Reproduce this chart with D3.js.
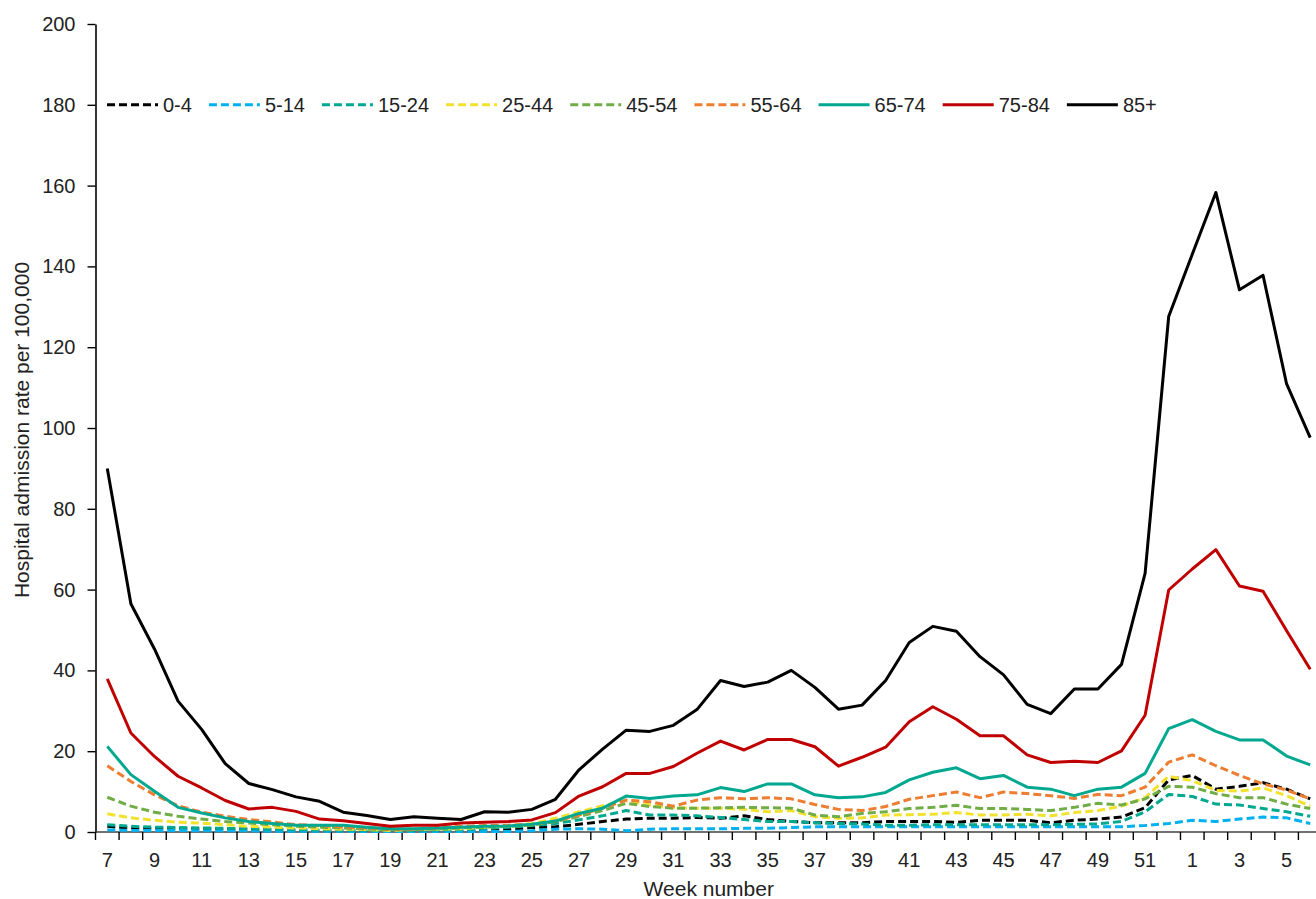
<!DOCTYPE html>
<html>
<head>
<meta charset="utf-8">
<script src="https://cdn.jsdelivr.net/npm/d3@7"></script>
<style>
  html, body { margin: 0; padding: 0; background: #fff; }
  svg { display: block; font-family: "Liberation Sans", Arial, sans-serif; }
</style>
</head>
<body>
<svg id="chart" width="1316" height="899"></svg>
<script>
// ---- Data ----
const weeks = ["7","8","9","10","11","12","13","14","15","16","17","18","19","20","21","22","23",
  "24","25","26","27","28","29","30","31","32","33","34","35","36","37","38","39","40","41",
  "42","43","44","45","46","47","48","49","50","51","52","1","2","3","4","5","6"];

const yTicks = [0,20,40,60,80,100,120,140,160,180,200];

const seriesNames = ["0-4","5-14","15-24","25-44","45-54","55-64","65-74","75-84","85+"];

const age0_4 = [1.4,1.0,0.9,0.9,0.8,0.8,0.7,0.6,0.5,0.4,0.4,0.3,0.3,0.3,0.3,0.4,0.6,
  0.7,1.1,1.3,1.9,2.6,3.2,3.4,3.4,3.6,3.4,4.0,3.1,2.6,2.3,2.3,2.3,2.6,2.6,
  2.6,2.4,2.9,2.9,2.9,2.3,2.9,3.2,3.7,6.0,12.9,
  14.0,10.6,11.3,12.2,10.6,8.2];
const age5_14 = [0.5,0.4,0.4,0.4,0.3,0.3,0.3,0.2,0.2,0.2,0.2,0.1,0.1,0.1,0.1,0.1,0.1,
  0.1,0.3,0.7,0.8,0.7,0.3,0.7,0.8,0.8,0.8,0.9,0.9,1.1,1.3,1.3,1.3,1.3,1.3,
  1.3,1.3,1.3,1.3,1.3,1.3,1.3,1.3,1.3,1.6,2.1,
  2.9,2.6,3.2,3.7,3.5,2.1];
const age15_24 = [1.8,1.4,1.2,1.1,1.0,0.9,0.8,0.7,0.6,0.5,0.5,0.4,0.4,0.4,0.5,0.6,0.8,
  1.2,1.6,2.1,3.0,4.0,5.3,4.2,4.2,4.0,3.6,3.1,2.6,2.6,2.3,2.1,2.0,1.7,1.7,
  1.8,1.8,1.8,1.8,1.8,1.8,1.9,2.0,2.6,5.0,9.3,
  8.8,6.9,6.7,5.8,5.0,3.9];
const age25_44 = [4.5,3.5,2.9,2.4,2.2,1.8,1.4,1.2,1.0,0.8,0.7,0.6,0.4,0.6,0.7,0.8,1.2,
  1.5,2.1,3.4,5.0,6.5,7.8,6.7,6.0,5.9,5.9,5.6,5.0,5.3,3.8,3.4,3.5,4.2,4.3,
  4.4,4.8,4.2,4.2,4.4,4.0,4.8,5.3,6.4,8.5,13.8,
  12.7,10.3,10.1,10.9,9.0,6.4];
const age45_54 = [8.6,6.4,4.9,3.9,3.2,2.6,2.2,1.8,1.4,1.2,1.0,0.7,0.6,0.6,0.7,1.0,1.2,
  1.4,1.7,2.6,3.8,5.3,7.1,6.3,5.9,5.9,6.0,6.1,6.0,5.9,4.2,3.8,4.6,5.0,5.8,
  6.1,6.6,5.8,5.8,5.6,5.3,6.1,7.1,6.7,8.2,11.3,
  11.1,9.5,8.5,8.5,6.9,5.8];
const age55_64 = [16.4,12.5,9.2,6.5,4.9,3.9,3.1,2.5,1.8,1.6,1.2,1.0,0.7,0.7,1.0,1.4,1.6,
  1.7,1.9,2.7,4.2,5.9,7.9,7.5,6.4,7.9,8.5,8.2,8.5,8.2,6.8,5.6,5.3,6.3,8.1,
  9.0,9.9,8.5,9.9,9.5,9.0,8.3,9.3,9.0,11.1,17.3,
  19.1,16.4,14.0,11.9,10.4,8.2];
const age65_74 = [21.2,14.2,10.1,6.1,4.7,3.5,2.6,2.1,1.7,1.7,1.7,1.2,0.8,0.8,1.0,1.2,1.4,
  1.5,1.9,2.7,4.6,5.9,8.9,8.3,8.9,9.2,11.0,10.0,11.9,11.9,9.2,8.5,8.7,9.8,12.9,
  14.8,15.9,13.2,14.0,11.1,10.6,9.0,10.6,11.1,14.5,25.6,
  27.8,24.9,22.8,22.8,18.8,16.6];
const age75_84 = [37.9,24.5,18.7,13.8,10.9,7.8,5.7,6.1,5.1,3.2,2.8,2.1,1.4,1.7,1.7,2.2,2.4,
  2.6,3.0,4.8,8.9,11.2,14.5,14.5,16.2,19.5,22.5,20.3,22.9,22.9,21.1,16.3,18.5,21.0,27.3,
  31.0,27.9,23.8,23.8,19.1,17.2,17.5,17.2,20.1,28.9,59.9,
  65.1,69.9,60.9,59.6,49.8,40.3];
const age85plus = [90.0,56.5,45.3,32.4,25.4,16.9,12.0,10.5,8.7,7.6,4.9,4.1,3.1,3.8,3.4,3.1,5.0,
  4.9,5.6,8.1,15.4,20.5,25.2,24.9,26.4,30.3,37.5,36.0,37.1,40.0,35.8,30.4,31.4,37.5,46.9,
  50.9,49.7,43.4,38.9,31.6,29.3,35.4,35.4,41.5,64.0,127.6,
  143.0,158.3,134.2,137.8,110.9,97.6];

// ---- Styles ----
const seriesValues = [age0_4, age5_14, age15_24, age25_44, age45_54, age55_64, age65_74, age75_84, age85plus];
const seriesColors = ["#000000","#00b0f0","#00a88f","#f2e22e","#70ad47","#ed7d31","#00a88f","#c00000","#000000"];
const seriesDashed = [true,true,true,true,true,true,false,false,false];

const series = seriesNames.map((n, i) => ({
  name: n, values: seriesValues[i], color: seriesColors[i], dashed: seriesDashed[i]
}));

const svg = d3.select("#chart");
const M = { left: 95.5, right: 1322, top: 24, bottom: 832 };

const x = d3.scaleBand().domain(weeks).range([M.left, M.right]).paddingInner(0).paddingOuter(0);
const y = d3.scaleLinear().domain([0, 200]).range([M.bottom, M.top]);
const cx = w => x(w) + x.bandwidth() / 2;

// Y axis
const yAxis = svg.append("g")
  .attr("transform", `translate(${M.left},0)`)
  .call(d3.axisLeft(y).tickValues(yTicks).tickSize(8).tickPadding(12).tickSizeOuter(0));
yAxis.select(".domain").attr("stroke", "#000").attr("stroke-width", 1.6);
yAxis.selectAll(".tick line").attr("stroke", "#000").attr("stroke-width", 1.4);
yAxis.selectAll(".tick text").attr("font-size", 20).attr("fill", "#222")
  .attr("font-family", "'Liberation Sans', Arial, sans-serif");

// X axis baseline
svg.append("line")
  .attr("x1", M.left).attr("x2", M.right)
  .attr("y1", y(0)).attr("y2", y(0))
  .attr("stroke", "#404040").attr("stroke-width", 1.6);

// X ticks at category boundaries
const boundaries = weeks.map(w => x(w)).concat([x(weeks[weeks.length - 1]) + x.bandwidth()]);
svg.append("g").selectAll("line").data(boundaries).join("line")
  .attr("x1", d => d).attr("x2", d => d)
  .attr("y1", y(0)).attr("y2", y(0) + 8)
  .attr("stroke", "#000").attr("stroke-width", 1.4);

// X labels every other category
svg.append("g").selectAll("text").data(weeks.filter((w, i) => i % 2 === 0)).join("text")
  .attr("x", d => cx(d)).attr("y", y(0) + 35)
  .attr("text-anchor", "middle")
  .attr("font-size", 20).attr("fill", "#222")
  .text(d => d);

// Axis titles
svg.append("text")
  .attr("x", (M.left + M.right) / 2).attr("y", 896)
  .attr("text-anchor", "middle").attr("font-size", 21).attr("fill", "#222")
  .text("Week number");
svg.append("text")
  .attr("transform", `translate(29,${(M.top + M.bottom) / 2 + 2}) rotate(-90)`)
  .attr("text-anchor", "middle").attr("font-size", 21).attr("fill", "#222")
  .text("Hospital admission rate per 100,000");

// Lines
const line = d3.line().x((d, i) => cx(weeks[i])).y(d => y(d));
svg.append("g").selectAll("path.series").data(series).join("path")
  .attr("class", "series")
  .attr("d", d => line(d.values))
  .attr("fill", "none")
  .attr("stroke", d => d.color)
  .attr("stroke-width", 3)
  .attr("stroke-linejoin", "round")
  .attr("stroke-dasharray", d => d.dashed ? "8,4" : null);

// Legend
const legendY = y(180);
const legend = svg.append("g");
let lx = 107;
series.forEach(s => {
  legend.append("line")
    .attr("x1", lx).attr("x2", lx + 51)
    .attr("y1", legendY).attr("y2", legendY)
    .attr("stroke", s.color).attr("stroke-width", 3)
    .attr("stroke-dasharray", s.dashed ? "8,4" : null);
  const t = legend.append("text")
    .attr("x", lx + 56).attr("y", legendY + 7)
    .attr("font-size", 20).attr("fill", "#222")
    .text(s.name);
  lx = lx + 56 + t.node().getComputedTextLength() + 17;
});
</script>
</body>
</html>
